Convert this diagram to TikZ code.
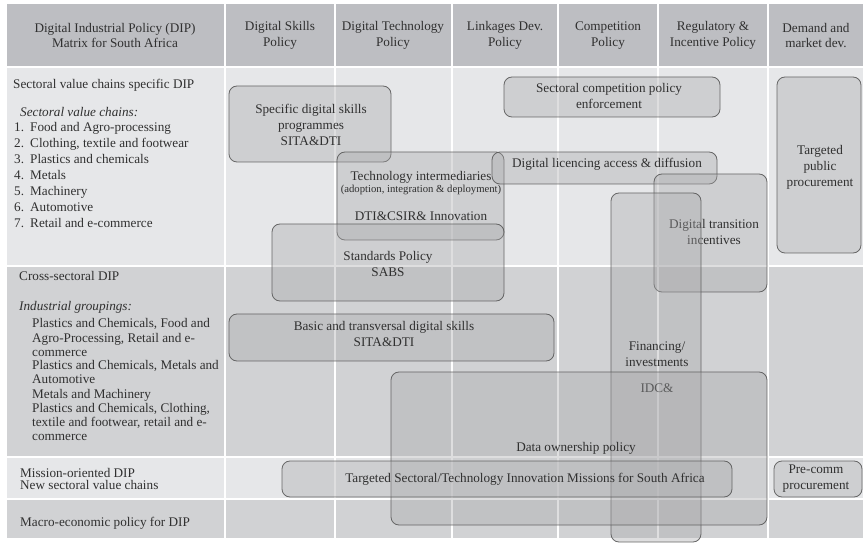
\documentclass[tikz,border=0pt]{standalone}
\usepackage{fontspec}
\setmainfont{Liberation Serif}
\usetikzlibrary{fit}
\definecolor{hdr}{HTML}{BDBEC2}
\definecolor{rowA}{HTML}{E6E7E9}
\definecolor{rowB}{HTML}{D1D2D4}
\definecolor{txt}{HTML}{303030}
\definecolor{boxfill}{HTML}{A6A6A8}
\definecolor{boxline}{HTML}{5A5A5A}
\begin{document}
\begin{tikzpicture}[x=1pt,y=-1pt,
  every node/.style={text=txt, font=\fontsize{13.2}{16}\selectfont},
  pbox/.style={draw=boxline, line width=0.8pt, fill=boxfill, fill opacity=0.36,
    draw opacity=0.9, text opacity=1, rounded corners=8pt, inner sep=0pt, align=center},
  hd/.style={align=center, font=\fontsize{13.2}{15.5}\selectfont},
  lt/.style={anchor=base west, inner sep=0pt},
  lti/.style={anchor=base west, inner sep=0pt, font=\fontsize{13.2}{16}\selectfont\itshape},
  bt/.style={align=center, inner sep=0pt}]
\useasboundingbox (0,0) rectangle (863,548);
% table backgrounds
\fill[white] (0,0) rectangle (863,548);
\fill[hdr]  (7,4)   rectangle (863,66);
\fill[rowA] (7,68)  rectangle (863,265);
\fill[rowB] (7,267) rectangle (863,456);
\fill[rowA] (7,458) rectangle (863,498);
\fill[rowB] (7,500) rectangle (863,538);
\foreach \x in {225,335,452,558,658,768}
  \fill[white] (\x-1,4) rectangle (\x+1,538);
% header
\node[hd] (h1) at (115,35.5) {Digital Industrial Policy (DIP)\\Matrix for South Africa};
\node[hd] (h2) at (280,35.5) {Digital Skills\\Policy};
\node[hd] (h3) at (393,35.5) {Digital Technology\\Policy};
\node[hd] (h4) at (505,35.5) {Linkages Dev.\\Policy};
\node[hd] (h5) at (608,35.5) {Competition\\Policy};
\node[hd] (h6) at (713,35.5) {Regulatory \&\\Incentive Policy};
\node[hd] (h7) at (816,35.5) {Demand and\\market dev.};
% row labels
\node[lt] (r1) at (13,89) {Sectoral value chains specific DIP};
\node[lti] (r1i) at (20,117) {Sectoral value chains:};
\foreach \t [count=\i] in {Food and Agro-processing,{Clothing, textile and footwear},Plastics and chemicals,Metals,Machinery,Automotive,Retail and e-commerce}{
  \node[lt] (n\i) at (14,116+16*\i) {\i.};
  \node[lt] (v\i) at (30,116+16*\i) {\t};
}
\node[lt] (r2) at (19,281) {Cross-sectoral DIP};
\node[lti] (r2i) at (19,311) {Industrial groupings:};
\foreach \t [count=\i] in {{Plastics and Chemicals, Food and},{Agro-Processing, Retail and e-},commerce,{Plastics and Chemicals, Metals and},Automotive,Metals and Machinery,{Plastics and Chemicals, Clothing,},{textile and footwear, retail and e-},commerce}{
  \node[lt] (g\i) at (32,314+14*\i) {\t};
}
\node[lt] (r3a) at (20,477) {Mission-oriented DIP};
\node[lt] (r3b) at (20,489) {New sectoral value chains};
\node[lt] (r4) at (20,526) {Macro-economic policy for DIP};
% policy boxes
\node[pbox, fit={(229,86) (391,162)}] (skills) {};
\node[bt] (skillsT) at (311,125) {Specific digital skills\\programmes\\SITA\&DTI};
\node[pbox, fit={(337,152) (504,240)}] (techint) {};
\node[inner sep=0pt] (ti1) at (421,177) {Technology intermediaries};
\node[inner sep=0pt, font=\fontsize{10.7}{12}\selectfont] (ti2) at (421,190) {(adoption, integration \& deployment)};
\node[inner sep=0pt] (ti3) at (421,216) {DTI\&CSIR\& Innovation};
\node[pbox, fit={(272,224) (504,301)}] (standards) {};
\node[bt] (standardsT) at (388,264) {Standards Policy\\SABS};
\node[pbox, fit={(504,77) (720,117)}] (compet) {};
\node[bt] (competT) at (609,96) {Sectoral competition policy\\enforcement};
\node[pbox, fit={(492,152) (717,184)}] (licence) {};
\node[bt] (licenceT) at (607,164) {Digital licencing access \& diffusion};
\node[pbox, fit={(654,174) (767,292)}] (transition) {};
\node[bt] (transitionT) at (714,232) {Digital transition\\incentives};
\node[pbox, fit={(611,193) (701,542)}] (finance) {};
\node[bt] (financeT) at (657,367) {Financing/\\investments\\[10pt]IDC\&};
\node[pbox, fit={(777,77) (861,253)}] (publicproc) {};
\node[bt] (publicprocT) at (820,167) {Targeted\\public\\procurement};
\node[pbox, fit={(229,314) (554,361)}] (basic) {};
\node[bt] (basicT) at (384,334) {Basic and transversal digital skills\\SITA\&DTI};
\node[pbox, fit={(391,372) (767,525)}] (dataown) {};
\node[bt] (dataownT) at (576,448) {Data ownership policy};
\node[pbox, fit={(282,461) (732,497)}] (missions) {};
\node[bt] (missionsT) at (525,479) {Targeted Sectoral/Technology Innovation Missions for South Africa};
\node[pbox, fit={(774,461) (862,497)}] (precomm) {};
\node[bt] (precommT) at (816,479) {Pre-comm\\procurement};
\end{tikzpicture}
\end{document}
